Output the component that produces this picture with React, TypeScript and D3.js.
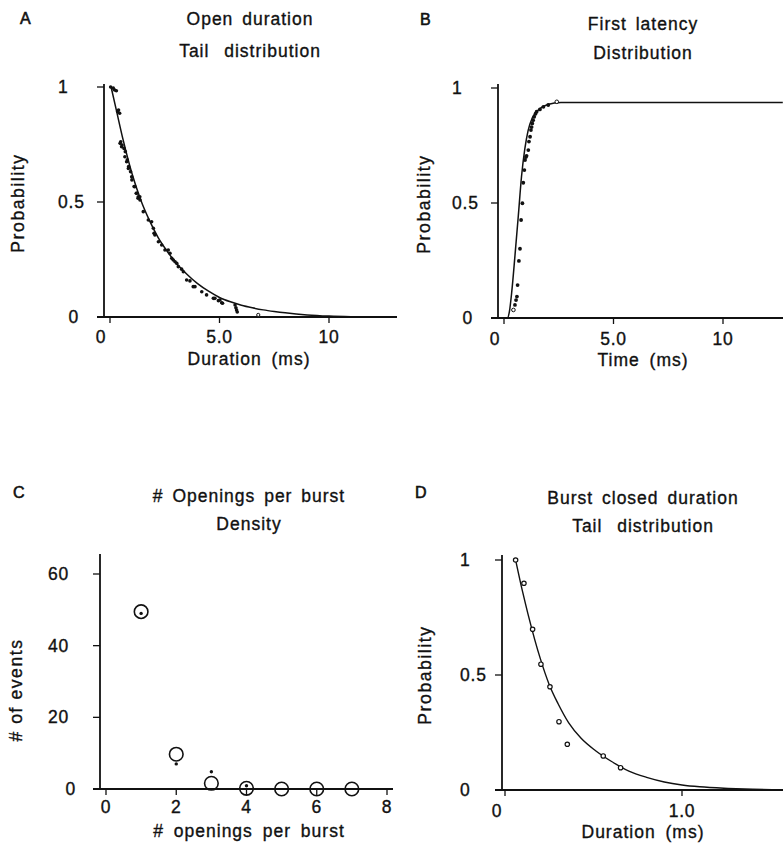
import React from "react";
import * as d3 from "d3";

// ---------- DATA ----------
// Panel A: open duration tail distribution
const openDurPoints: [number, number][] = [
  [0.03, 1.0], [0.15, 0.995], [0.21, 0.987], [0.29, 0.984], [0.35, 0.893], [0.39, 0.9], [0.44, 0.886],
  [0.46, 0.755], [0.49, 0.762], [0.53, 0.74], [0.55, 0.748], [0.64, 0.733], [0.68, 0.697], [0.7, 0.719],
  [0.76, 0.675], [0.79, 0.683], [0.84, 0.646], [0.85, 0.654], [0.94, 0.632], [0.99, 0.61], [1.0, 0.596],
  [1.1, 0.567], [1.14, 0.567], [1.2, 0.538], [1.22, 0.538], [1.28, 0.516], [1.29, 0.523], [1.36, 0.523],
  [1.37, 0.509], [1.52, 0.458], [1.75, 0.422], [1.9, 0.414], [1.98, 0.386], [2.01, 0.364], [2.05, 0.357],
  [2.21, 0.327], [2.36, 0.313], [2.51, 0.291], [2.66, 0.291], [2.74, 0.277], [2.82, 0.255], [2.89, 0.248],
  [2.97, 0.24], [3.05, 0.233], [3.12, 0.219], [3.27, 0.208], [3.35, 0.197], [3.5, 0.161], [3.65, 0.157],
  [3.8, 0.132], [3.88, 0.132], [4.19, 0.11], [4.41, 0.096], [4.72, 0.081], [4.79, 0.081], [4.95, 0.071],
  [5.02, 0.074], [5.1, 0.062], [5.14, 0.06], [5.71, 0.052], [5.75, 0.04], [5.78, 0.03], [5.81, 0.022],
];
const openDurOpen: [number, number][] = [[6.77, 0.009]];
const openDurFit: [number, number][] = [
  [0.05, 1.0], [0.3, 0.895], [0.6, 0.77], [1.0, 0.625], [1.4, 0.51], [1.8, 0.42], [2.2, 0.345],
  [2.6, 0.287], [3.0, 0.237], [3.5, 0.187], [4.0, 0.145], [4.5, 0.112], [5.0, 0.085], [5.5, 0.066],
  [6.0, 0.051], [6.5, 0.04], [7.0, 0.031], [7.5, 0.024], [8.0, 0.018], [9.0, 0.009], [10.0, 0.004],
  [11.0, 0.0015], [12.0, 0.0005], [12.8, 0],
];

// Panel B: first latency distribution
const latencyPoints: [number, number][] = [
  [0.5, 0.057], [0.55, 0.078], [0.59, 0.093], [0.62, 0.143], [0.68, 0.248], [0.73, 0.301], [0.78, 0.426],
  [0.84, 0.499], [0.88, 0.588], [0.93, 0.643], [0.96, 0.687], [1.0, 0.7], [1.03, 0.705], [1.11, 0.73],
  [1.14, 0.767], [1.19, 0.788], [1.23, 0.817], [1.26, 0.83], [1.29, 0.846], [1.33, 0.86], [1.38, 0.875],
  [1.44, 0.888], [1.49, 0.897], [1.64, 0.907], [1.8, 0.918], [2.02, 0.926],
];
const latencyOpen: [number, number][] = [[0.43, 0.035], [2.41, 0.94]];
const latencyFit: [number, number][] = [
  [0, 0], [0.15, 0], [0.25, 0.03], [0.35, 0.11], [0.5, 0.27], [0.65, 0.44], [0.8, 0.615], [0.95, 0.735],
  [1.1, 0.815], [1.3, 0.872], [1.6, 0.907], [2.0, 0.928], [2.6, 0.937], [12.73, 0.937],
];

// Panel C: openings per burst density
const burstOpenings = [1, 2, 3, 4, 5, 6, 7];
const burstPredicted = [49.5, 9.7, 1.6, 0.2, 0, 0, 0];
const burstObserved: [number, number][] = [[1, 49], [2, 7], [3, 4.8], [4, 0.9]];

// Panel D: burst closed duration tail distribution
const closedPoints: [number, number][] = [
  [0.06, 1.0], [0.107, 0.899], [0.156, 0.699], [0.203, 0.547], [0.254, 0.449], [0.305, 0.297],
  [0.352, 0.199], [0.555, 0.148], [0.653, 0.097],
];
const closedFit: [number, number][] = [
  [0.06, 1.0], [0.1, 0.86], [0.13, 0.765], [0.2, 0.57], [0.25, 0.458], [0.3, 0.375], [0.36, 0.292],
  [0.43, 0.225], [0.51, 0.172], [0.6, 0.125], [0.7, 0.082], [0.8, 0.055], [0.9, 0.035], [1.0, 0.022],
  [1.1, 0.014], [1.26, 0.007], [1.4, 0.003], [1.57, 0],
];

// Tick labels
const probTicks = [0, 0.5, 1];
const probTickLabels = ["0", "0.5", "1"];
const msTicksAB = [0, 5, 10];
const msTickLabelsAB = ["0", "5.0", "10"];
const countTicks = [0, 20, 40, 60];
const openingTicks = [0, 2, 4, 6, 8];
const msTicksD = [0, 1];
const msTickLabelsD = ["0", "1.0"];

const FONT = "'Liberation Sans', Arial, Helvetica, sans-serif";
const INK = "#111";

type PanelProps = {
  letter: string;
  letterX: number;
  letterY: number;
  title1: string;
  title2: string;
  titleX: number;
  title1Y: number;
  title2Y: number;
  x: d3.ScaleLinear<number, number>;
  y: d3.ScaleLinear<number, number>;
  axisLeft: number;
  yTop: number;
  xAxisStart: number;
  xAxisEnd: number;
  xTicks: number[];
  xTickLabels: string[];
  xTickLabelY: number;
  zeroShift: number;
  yTicks: number[];
  yTickLabels: string[];
  yLabelPos: (v: number, i: number) => { x: number; anchor: string };
  xLabel: string;
  xLabelX: number;
  xLabelY: number;
  yLabel: string;
  yLabelX: number;
  yLabelY: number;
  children?: React.ReactNode;
};

function Panel(p: PanelProps) {
  const y0 = p.y(0);
  const textStyle: React.CSSProperties = {
    fontFamily: FONT,
    fontSize: 17.5,
    letterSpacing: "1px",
    fill: INK,
    stroke: INK,
    strokeWidth: 0.35,
  };
  return (
    <g>
      <text x={p.letterX} y={p.letterY} style={{ ...textStyle, fontSize: 16, letterSpacing: "0px", strokeWidth: 0.6 }}>
        {p.letter}
      </text>
      <text x={p.titleX} y={p.title1Y} textAnchor="middle" style={{ ...textStyle, wordSpacing: "3px" }}>
        {p.title1}
      </text>
      <text x={p.titleX} y={p.title2Y} textAnchor="middle" style={{ ...textStyle, wordSpacing: "9px" }}>
        {p.title2}
      </text>
      <line x1={p.axisLeft} x2={p.axisLeft} y1={p.yTop} y2={y0} stroke={INK} strokeWidth={1.8} />
      <line x1={p.xAxisStart} x2={p.xAxisEnd} y1={y0} y2={y0} stroke={INK} strokeWidth={1.8} />
      {p.yTicks.map((t, i) => {
        const lp = p.yLabelPos(t, i);
        return (
          <g key={"yt" + i}>
            <line x1={p.axisLeft - 7} x2={p.axisLeft} y1={p.y(t)} y2={p.y(t)} stroke={INK} strokeWidth={1.3} />
            <text x={lp.x} y={p.y(t) + 6} textAnchor={lp.anchor} style={{ ...textStyle, letterSpacing: "0.8px" }}>
              {p.yTickLabels[i]}
            </text>
          </g>
        );
      })}
      {p.xTicks.map((t, i) => (
        <g key={"xt" + i}>
          <line x1={p.x(t)} x2={p.x(t)} y1={y0} y2={y0 + 6} stroke={INK} strokeWidth={1.3} />
          <text
            x={p.x(t) - (t === 0 ? p.zeroShift : 0)}
            y={p.xTickLabelY}
            textAnchor="middle"
            style={{ ...textStyle, letterSpacing: "0.8px" }}
          >
            {p.xTickLabels[i]}
          </text>
        </g>
      ))}
      <text x={p.xLabelX} y={p.xLabelY} textAnchor="middle" style={{ ...textStyle, wordSpacing: "4px" }}>
        {p.xLabel}
      </text>
      <text
        transform={`translate(${p.yLabelX},${p.yLabelY}) rotate(-90)`}
        textAnchor="middle"
        style={{ ...textStyle, letterSpacing: "1.6px" }}
      >
        {p.yLabel}
      </text>
      {p.children}
    </g>
  );
}

export default function App() {
  const xA = d3.scaleLinear().domain([0, 10]).range([110, 329]);
  const yA = d3.scaleLinear().domain([0, 1]).range([317, 87]);
  const xB = d3.scaleLinear().domain([0, 10]).range([504, 723]);
  const yB = d3.scaleLinear().domain([0, 1]).range([318, 88]);
  const xC = d3.scaleLinear().domain([0, 8]).range([106, 387]);
  const yC = d3.scaleLinear().domain([0, 60]).range([789, 574]);
  const xD = d3.scaleLinear().domain([0, 1]).range([505, 682]);
  const yD = d3.scaleLinear().domain([0, 1]).range([790, 560]);

  const lineGen = (x: d3.ScaleLinear<number, number>, y: d3.ScaleLinear<number, number>) =>
    d3
      .line<[number, number]>()
      .x((d) => x(d[0]))
      .y((d) => y(d[1]))
      .curve(d3.curveMonotoneX);

  const probLabelAB = (axis: number) => (v: number) =>
    v === 0 ? { x: axis - 25, anchor: "end" } : { x: axis - 46, anchor: "start" };

  return (
    <svg width={783} height={844} style={{ position: "absolute", left: 0, top: 0, background: "#fff" }}>
      <rect x={0} y={0} width={783} height={844} fill="#fff" />

      <Panel
        letter="A" letterX={20} letterY={24}
        title1="Open duration" title2="Tail distribution" titleX={250} title1Y={25} title2Y={57}
        x={xA} y={yA} axisLeft={104} yTop={84} xAxisStart={97} xAxisEnd={397}
        xTicks={msTicksAB} xTickLabels={msTickLabelsAB} xTickLabelY={343} zeroShift={9}
        yTicks={probTicks} yTickLabels={probTickLabels} yLabelPos={probLabelAB(104)}
        xLabel="Duration (ms)" xLabelX={249} xLabelY={365}
        yLabel="Probability" yLabelX={24} yLabelY={203}
      >
        <path d={lineGen(xA, yA)(openDurFit) || ""} fill="none" stroke={INK} strokeWidth={1.5} />
        {openDurPoints.map((d, i) => (
          <circle key={i} cx={xA(d[0])} cy={yA(d[1])} r={1.8} fill={INK} />
        ))}
        {openDurOpen.map((d, i) => (
          <circle key={"o" + i} cx={xA(d[0])} cy={yA(d[1])} r={1.6} fill="#fff" stroke={INK} strokeWidth={1} />
        ))}
      </Panel>

      <Panel
        letter="B" letterX={420} letterY={25}
        title1="First latency" title2="Distribution" titleX={643} title1Y={30} title2Y={59}
        x={xB} y={yB} axisLeft={498} yTop={84} xAxisStart={491} xAxisEnd={783}
        xTicks={msTicksAB} xTickLabels={msTickLabelsAB} xTickLabelY={345} zeroShift={9}
        yTicks={probTicks} yTickLabels={probTickLabels} yLabelPos={probLabelAB(498)}
        xLabel="Time (ms)" xLabelX={643} xLabelY={366}
        yLabel="Probability" yLabelX={430} yLabelY={204}
      >
        <path d={lineGen(xB, yB)(latencyFit) || ""} fill="none" stroke={INK} strokeWidth={1.5} />
        {latencyPoints.map((d, i) => (
          <circle key={i} cx={xB(d[0])} cy={yB(d[1])} r={1.9} fill={INK} />
        ))}
        {latencyOpen.map((d, i) => (
          <circle key={"o" + i} cx={xB(d[0])} cy={yB(d[1])} r={1.8} fill="#fff" stroke={INK} strokeWidth={1} />
        ))}
      </Panel>

      <Panel
        letter="C" letterX={13} letterY={498}
        title1="# Openings per burst" title2="Density" titleX={249} title1Y={502} title2Y={530}
        x={xC} y={yC} axisLeft={100} yTop={554} xAxisStart={93} xAxisEnd={393}
        xTicks={openingTicks} xTickLabels={openingTicks.map(String)} xTickLabelY={813} zeroShift={0}
        yTicks={countTicks} yTickLabels={countTicks.map(String)}
        yLabelPos={(v) => (v === 0 ? { x: 76, anchor: "end" } : { x: 69, anchor: "end" })}
        xLabel="# openings per burst" xLabelX={249} xLabelY={837}
        yLabel="# of events" yLabelX={22} yLabelY={690}
      >
        {burstOpenings.map((n, i) => (
          <circle key={i} cx={xC(n)} cy={yC(burstPredicted[i])} r={6.8} fill="none" stroke={INK} strokeWidth={1.6} />
        ))}
        {burstObserved.map((d, i) => (
          <circle key={"ob" + i} cx={xC(d[0])} cy={yC(d[1])} r={1.7} fill={INK} />
        ))}
      </Panel>

      <Panel
        letter="D" letterX={415} letterY={498}
        title1="Burst closed duration" title2="Tail distribution" titleX={643} title1Y={504} title2Y={532}
        x={xD} y={yD} axisLeft={502} yTop={555} xAxisStart={495} xAxisEnd={783}
        xTicks={msTicksD} xTickLabels={msTickLabelsD} xTickLabelY={817} zeroShift={8}
        yTicks={probTicks} yTickLabels={probTickLabels}
        yLabelPos={() => ({ x: 460, anchor: "start" })}
        xLabel="Duration (ms)" xLabelX={643} xLabelY={838}
        yLabel="Probability" yLabelX={431} yLabelY={675}
      >
        <path d={lineGen(xD, yD)(closedFit) || ""} fill="none" stroke={INK} strokeWidth={1.4} />
        {closedPoints.map((d, i) => (
          <circle key={i} cx={xD(d[0])} cy={yD(d[1])} r={2.2} fill="#fff" stroke={INK} strokeWidth={1.2} />
        ))}
      </Panel>
    </svg>
  );
}
